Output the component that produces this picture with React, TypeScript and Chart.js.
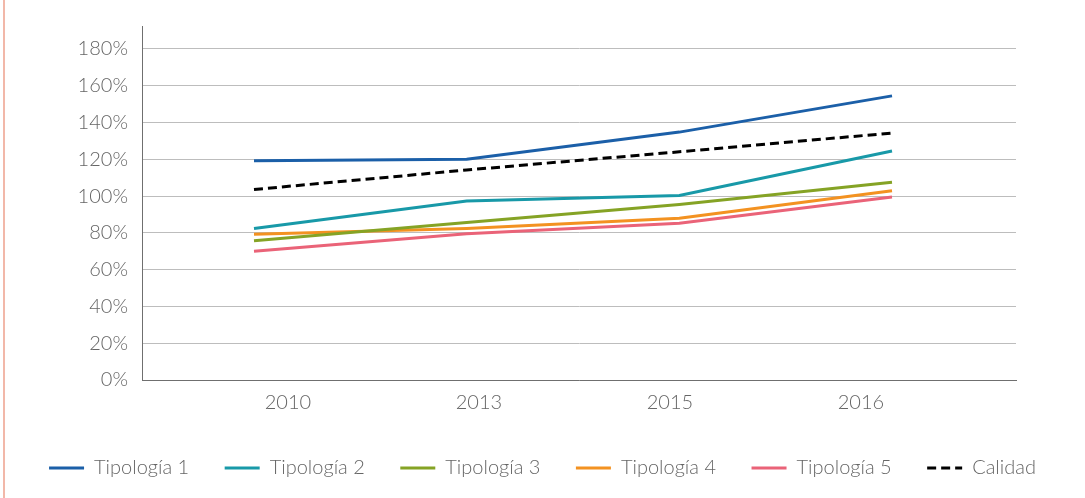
import React, { useEffect, useRef } from "react";
import { Chart, registerables } from "chart.js";

Chart.register(...registerables);

const years = ["2010", "2013", "2015", "2016"];
const yTicks = [0, 20, 40, 60, 80, 100, 120, 140, 160, 180];
const tipologia1 = [119.2, 120, 134.8, 154.5];
const tipologia2 = [82.4, 97.3, 100.3, 124.5];
const tipologia3 = [75.7, 85.6, 95.4, 107.5];
const tipologia4 = [79.3, 82.4, 88, 102.9];
const tipologia5 = [70, 79.5, 85.2, 99.5];
const calidad = [103.6, 114.2, 124.1, 134.3];

const seriesNames = ["Tipología 1", "Tipología 2", "Tipología 3", "Tipología 4", "Tipología 5", "Calidad"];
const seriesColors = ["#1B5FA8", "#1899A8", "#85A325", "#F39221", "#EA6378", "#000000"];

const FONT = "Lato, 'Open Sans', sans-serif";
const TEXT = "#666666";

export default function App() {
  const ref = useRef<HTMLCanvasElement | null>(null);

  useEffect(() => {
    document.body.style.margin = "0";
    const all = [tipologia1, tipologia2, tipologia3, tipologia4, tipologia5, calidad];
    const datasets = all.map((vals, k) => ({
      label: seriesNames[k],
      data: vals.map((v, i) => ({ x: i, y: v })),
      borderColor: seriesColors[k],
      backgroundColor: seriesColors[k],
      borderWidth: 3,
      borderDash: k === 5 ? [9, 5] : [],
      pointRadius: 0,
      tension: 0,
      fill: false,
      xAxisID: "x",
      yAxisID: "y",
    }));
    const chart = new Chart(ref.current as HTMLCanvasElement, {
      type: "line",
      data: { datasets },
      options: {
        animation: false,
        responsive: false,
        maintainAspectRatio: false,
        layout: { padding: { left: 0, right: 0, top: 22, bottom: 10 } },
        plugins: {
          tooltip: { enabled: false },
          legend: {
            position: "bottom",
            labels: {
              usePointStyle: true,
              pointStyle: "line",
              pointStyleWidth: 35,
              padding: 35.5,
              color: TEXT,
              font: { family: FONT, size: 20, weight: "300" },
              generateLabels: (c: any) => {
                const items = Chart.defaults.plugins.legend.labels.generateLabels(c);
                items.forEach((it: any) => {
                  const ds = c.data.datasets[it.datasetIndex];
                  it.lineDash = ds.borderDash;
                  it.lineWidth = 3;
                  it.strokeStyle = ds.borderColor;
                  it.fillStyle = ds.borderColor;
                  it.pointStyle = "line";
                });
                return items;
              },
            },
          },
        },
        scales: {
          x: {
            type: "linear",
            display: false,
            min: -0.5266,
            max: 3.583,
          },
          x2: {
            type: "linear",
            axis: "x",
            position: "bottom",
            min: -0.764,
            max: 3.812,
            afterBuildTicks: (scale: any) => {
              scale.ticks = years.map((_, i) => ({ value: i }));
            },
            afterFit: (scale: any) => {
              scale.height = 42.5;
            },
            grid: { display: false, drawTicks: false },
            border: { display: true, color: "#6f6f6f", width: 1 },
            ticks: {
              padding: 11,
              maxRotation: 0,
              color: TEXT,
              font: { family: FONT, size: 20, weight: "300" },
              callback: (v: any) => years[Math.round(Number(v))] ?? "",
            },
          },
          y: {
            min: 0,
            max: 192.5,
            afterBuildTicks: (scale: any) => {
              scale.ticks = yTicks.map((v) => ({ value: v }));
            },
            afterFit: (scale: any) => {
              scale.width = 142;
            },
            grid: { color: "#bdbdbd", lineWidth: 1, drawTicks: false },
            border: { display: true, color: "#6f6f6f", width: 1 },
            ticks: {
              padding: 14,
              color: TEXT,
              font: { family: FONT, size: 20, weight: "300" },
              callback: (v: any) => `${v}%`,
            },
          },
          yRight: {
            type: "linear",
            position: "right",
            axis: "y",
            min: 0,
            max: 192.5,
            afterFit: (scale: any) => {
              scale.width = 69;
            },
            grid: { display: false, drawTicks: false },
            border: { display: false },
            ticks: { display: false },
          },
        },
      },
    });
    return () => chart.destroy();
  }, []);

  return (
    <div style={{ position: "relative", width: 1085, height: 498, background: "#fff" }}>
      <div style={{ position: "absolute", left: 3, top: 0, width: 2, height: 498, background: "#F2B8A9" }} />
      <canvas ref={ref} width={1085} height={498} style={{ display: "block" }} />
    </div>
  );
}
